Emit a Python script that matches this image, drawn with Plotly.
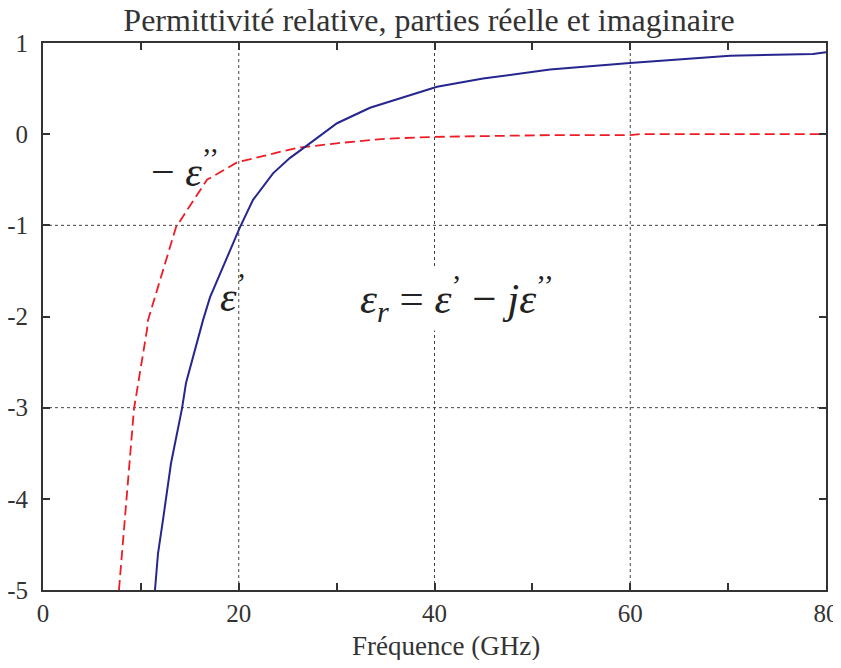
import plotly.graph_objects as go

# Real part eps' (blue solid)
freq_real = [11.44, 11.75, 12.26, 13.08, 14.20, 14.61, 16.35, 17.06, 20.13, 21.46,
             23.50, 25.24, 26.26, 30.04, 33.41, 36.47, 40.26, 44.96, 49.76, 51.80,
             59.97, 70.19, 78.67, 79.69, 80.0]
eps_real = [-5.00, -4.60, -4.23, -3.61, -3.01, -2.73, -2.04, -1.79, -1.02, -0.72,
            -0.43, -0.26, -0.18, 0.12, 0.29, 0.39, 0.52, 0.61, 0.68, 0.71,
            0.78, 0.86, 0.88, 0.90, 0.90]

# Imaginary part -eps'' (red dashed)
freq_imag = [7.76, 9.30, 10.62, 10.73, 13.59, 16.75, 19.82, 22.0, 24.0, 26.0,
             30.0, 35.0, 40.0, 51.80, 60.0, 61.0, 80.0]
eps_imag = [-5.00, -3.01, -2.15, -2.04, -1.02, -0.50, -0.31, -0.25, -0.20, -0.15,
            -0.10, -0.05, -0.03, -0.01, -0.01, 0.0, 0.0]

x_ticks = [0, 10, 20, 30, 40, 50, 60, 70, 80]
x_labels = ["0", "", "20", "", "40", "", "60", "", "80"]
y_ticks = [1, 0, -1, -2, -3, -4, -5]
y_labels = ["1", "0", "-1", "-2", "-3", "-4", "-5"]

FONT = "Liberation Serif"
AXC = "#333333"
TXT = "#333333"

# the page body adds an 8px margin; size the figure so the whole page fits the
# 841x668 window and the plot area lands at x 43..826, y 43..590
W, H = 833, 652
L, T, R, B = 35, 35, 15, 70
PW, PH = W - L - R, H - T - B

fig = go.Figure()
fig.add_trace(go.Scatter(x=freq_imag, y=eps_imag, mode="lines",
                         line=dict(color="#ee1c25", width=1.8, dash="10px,5px"),
                         showlegend=False))
fig.add_trace(go.Scatter(x=freq_real, y=eps_real, mode="lines",
                         line=dict(color="#26268f", width=2),
                         showlegend=False))

shapes = []
for gx in [20, 40, 60]:
    shapes.append(dict(type="line", xref="x", yref="y", x0=gx, x1=gx, y0=-5, y1=1,
                       line=dict(color="#444444", width=1, dash="dot"), layer="below"))
for gy in [-1, -3]:
    shapes.append(dict(type="line", xref="x", yref="y", x0=0, x1=80, y0=gy, y1=gy,
                       line=dict(color="#444444", width=1, dash="dot"), layer="below"))

annotations = [
    dict(x=14.5, y=-0.38, xref="x", yref="y", showarrow=False,
         text="− <i>ε</i><sup>’’</sup>", font=dict(family=FONT, size=42, color="#222222")),
    dict(x=19.4, y=-1.75, xref="x", yref="y", showarrow=False,
         text="<i>ε</i><sup>’</sup>", font=dict(family=FONT, size=42, color="#222222")),
    dict(x=42.3, y=-1.8, xref="x", yref="y", showarrow=False, bgcolor="white",
         text="<i>ε</i><sub><i>r</i></sub> = <i>ε</i><sup>’</sup> − <i>jε</i><sup>’’</sup>",
         font=dict(family=FONT, size=43, color="#222222")),
    # x-axis title (slightly right of centre, as in the reference)
    dict(x=(446 - 43) / PW, y=-(646 - 590) / PH, xref="paper", yref="paper",
         xanchor="center", yanchor="middle", showarrow=False,
         text="Fréquence (GHz)", font=dict(family=FONT, size=27, color=TXT)),
]

fig.update_layout(
    width=W, height=H,
    margin=dict(l=L, r=R, t=T, b=B),
    paper_bgcolor="white", plot_bgcolor="white",
    title=dict(text="Permittivité relative, parties réelle et imaginaire",
               x=(429 - 8) / W, xanchor="center", y=1 - 12 / H, yanchor="middle",
               font=dict(family=FONT, size=32, color=TXT)),
    shapes=shapes, annotations=annotations,
    xaxis=dict(range=[0, 80], tickvals=x_ticks, ticktext=x_labels,
               ticks="inside", ticklen=7, tickwidth=2, tickcolor=AXC,
               showline=True, linecolor=AXC, linewidth=2, mirror="ticks",
               showgrid=False, zeroline=False, automargin=False,
               ticklabeloverflow="allow",
               tickfont=dict(family=FONT, size=25, color=TXT)),
    yaxis=dict(range=[-5, 1], tickvals=y_ticks, ticktext=y_labels,
               ticks="inside", ticklen=7, tickwidth=2, tickcolor=AXC,
               showline=True, linecolor=AXC, linewidth=2, mirror="ticks",
               showgrid=False, zeroline=False, automargin=False,
               ticklabelstandoff=8, ticklabeloverflow="allow",
               tickfont=dict(family=FONT, size=25, color=TXT)),
)

# hide page scrollbars so nothing at the right edge is covered
fig.write_html(
    "out.html",
    post_script="document.documentElement.style.overflow='hidden';"
                "document.body.style.overflow='hidden';",
)
